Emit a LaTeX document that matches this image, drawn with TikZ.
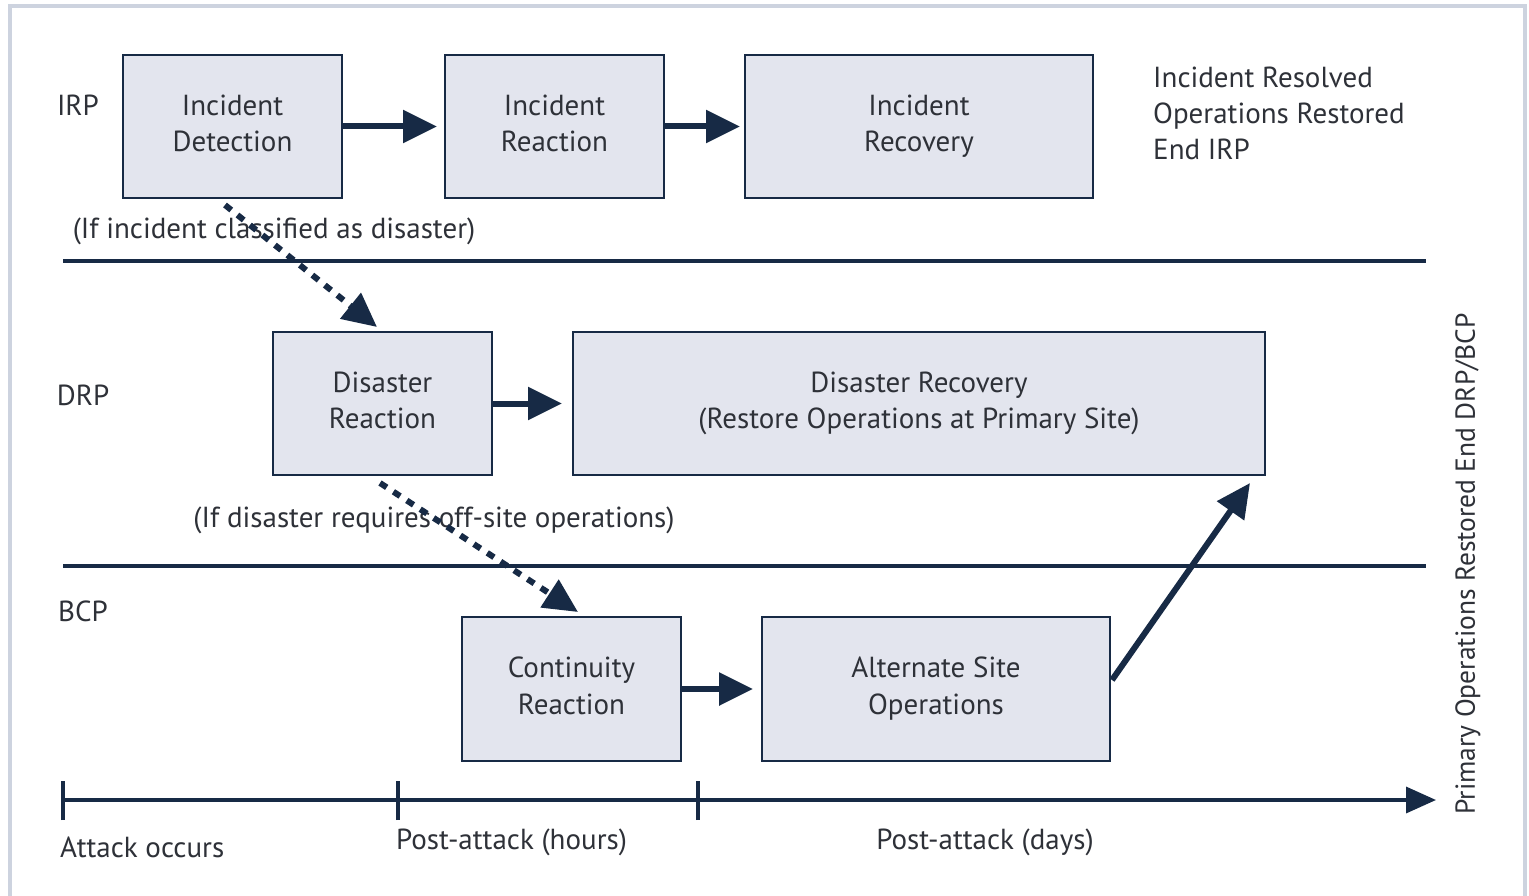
\documentclass[tikz,border=0pt]{standalone}
\usepackage{fontspec}
\setmainfont{PT Sans}
\usetikzlibrary{arrows.meta}
\definecolor{navy}{HTML}{172A45}
\definecolor{boxfill}{HTML}{E3E5EE}
\definecolor{frame}{HTML}{CDD3DF}
\definecolor{txt}{HTML}{2E3138}
\tikzset{
  box/.style={draw=navy, line width=1.6pt, fill=boxfill, inner sep=0pt, outer sep=0pt,
    align=center, text=txt, font=\fontsize{29}{36.5}\selectfont},
  lbl/.style={text=txt, font=\fontsize{29}{36}\selectfont, inner sep=0pt},
  flow/.style={draw=navy, line width=6pt, -{Triangle[length=34pt,width=32pt]}},
  dflow/.style={draw=navy, line width=6pt, dash pattern=on 8pt off 8pt, -{Triangle[length=34pt,width=32pt]}},
  sep/.style={draw=navy, line width=3.5pt},
}
\newcommand{\lastdepth}{\vphantom{(y}}
\begin{document}
\begin{tikzpicture}[x=1pt,y=-1pt]
\useasboundingbox (0,0) rectangle (1529,896);
\fill[white] (0,0) rectangle (1529,896);
\draw[frame, line width=4pt] (10,6) rectangle (1525,910);

% boxes
\node[box, minimum width=219pt, minimum height=143pt] (det) at (232.5,126.5) {Incident\\Detection\lastdepth};
\node[box, minimum width=219pt, minimum height=143pt] (rea) at (554.5,126.5) {Incident\\Reaction\lastdepth};
\node[box, minimum width=348pt, minimum height=143pt] (rec) at (919,126.5) {Incident\\Recovery\lastdepth};
\node[box, minimum width=219pt, minimum height=143pt] (drea) at (382.5,403.5) {Disaster\\Reaction\lastdepth};
\node[box, minimum width=692pt, minimum height=143pt] (drec) at (919,403.5) {Disaster Recovery\\(Restore Operations at Primary Site)\lastdepth};
\node[box, minimum width=219pt, minimum height=144pt] (cre) at (571.5,689) {Continuity\\Reaction\lastdepth};
\node[box, minimum width=348pt, minimum height=144pt] (alt) at (936,689) {Alternate Site\\Operations\lastdepth};

% row labels
\node[lbl] (irp) at (78,105) {IRP};
\node[lbl] (drp) at (83,395) {DRP};
\node[lbl] (bcp) at (83,611) {BCP};

% separators
\coordinate (s1a) at (63,261); \coordinate (s1b) at (1426,261);
\coordinate (s2a) at (63,566); \coordinate (s2b) at (1426,566);
\draw[sep] (s1a) -- (s1b);
\draw[sep] (s2a) -- (s2b);

% texts
\node[lbl] (t1) at (274,231) {(If incident classified as disaster)};
\node[lbl] (t2) at (434,520) {(If disaster requires off-site operations)};
\node[lbl, anchor=west, align=left] (t3) at (1153,113) {Incident Resolved\\Operations Restored\\End IRP};
\node[lbl, rotate=90, font=\fontsize{27.5}{33}\selectfont] (t4) at (1468,564) {Primary Operations Restored End DRP/BCP};

% timeline
\coordinate (tl0) at (63,800);
\coordinate (tl1) at (398,800);
\coordinate (tl2) at (698,800);
\coordinate (tlend) at (1436,800);
\draw[draw=navy, line width=3.5pt, -{Triangle[length=30pt,width=26pt]}] (tl0) -- (tlend);
\foreach \c in {tl0,tl1,tl2} \draw[navy, line width=3.5pt] ([yshift=-20pt]\c) -- ([yshift=19pt]\c);
\node[lbl, anchor=west] (a1) at (60,847) {Attack occurs};
\node[lbl, anchor=west] (a2) at (396,842) {Post-attack (hours)};
\node[lbl] (a3) at (985,842) {Post-attack (days)};

% solid arrows
\draw[flow, shorten >=8pt] (det.east) -- (rea.west);
\draw[flow, shorten >=5pt] (rea.east) -- (rec.west);
\draw[flow, shorten >=11pt] (drea.east) -- (drec.west);
\draw[flow, shorten >=9pt] (cre.east) -- (alt.west);
\coordinate (d1) at (1112,680);
\coordinate (d2) at (1250,483);
\draw[flow] (d1) -- (d2);

% dashed arrows
\coordinate (e1) at (225,205);
\coordinate (e2) at (377,327);
\coordinate (e3) at (380,483);
\coordinate (e4) at (578,612);
\draw[dflow] (e1) -- (e2);
\draw[dflow] (e3) -- (e4);
\end{tikzpicture}
\end{document}
